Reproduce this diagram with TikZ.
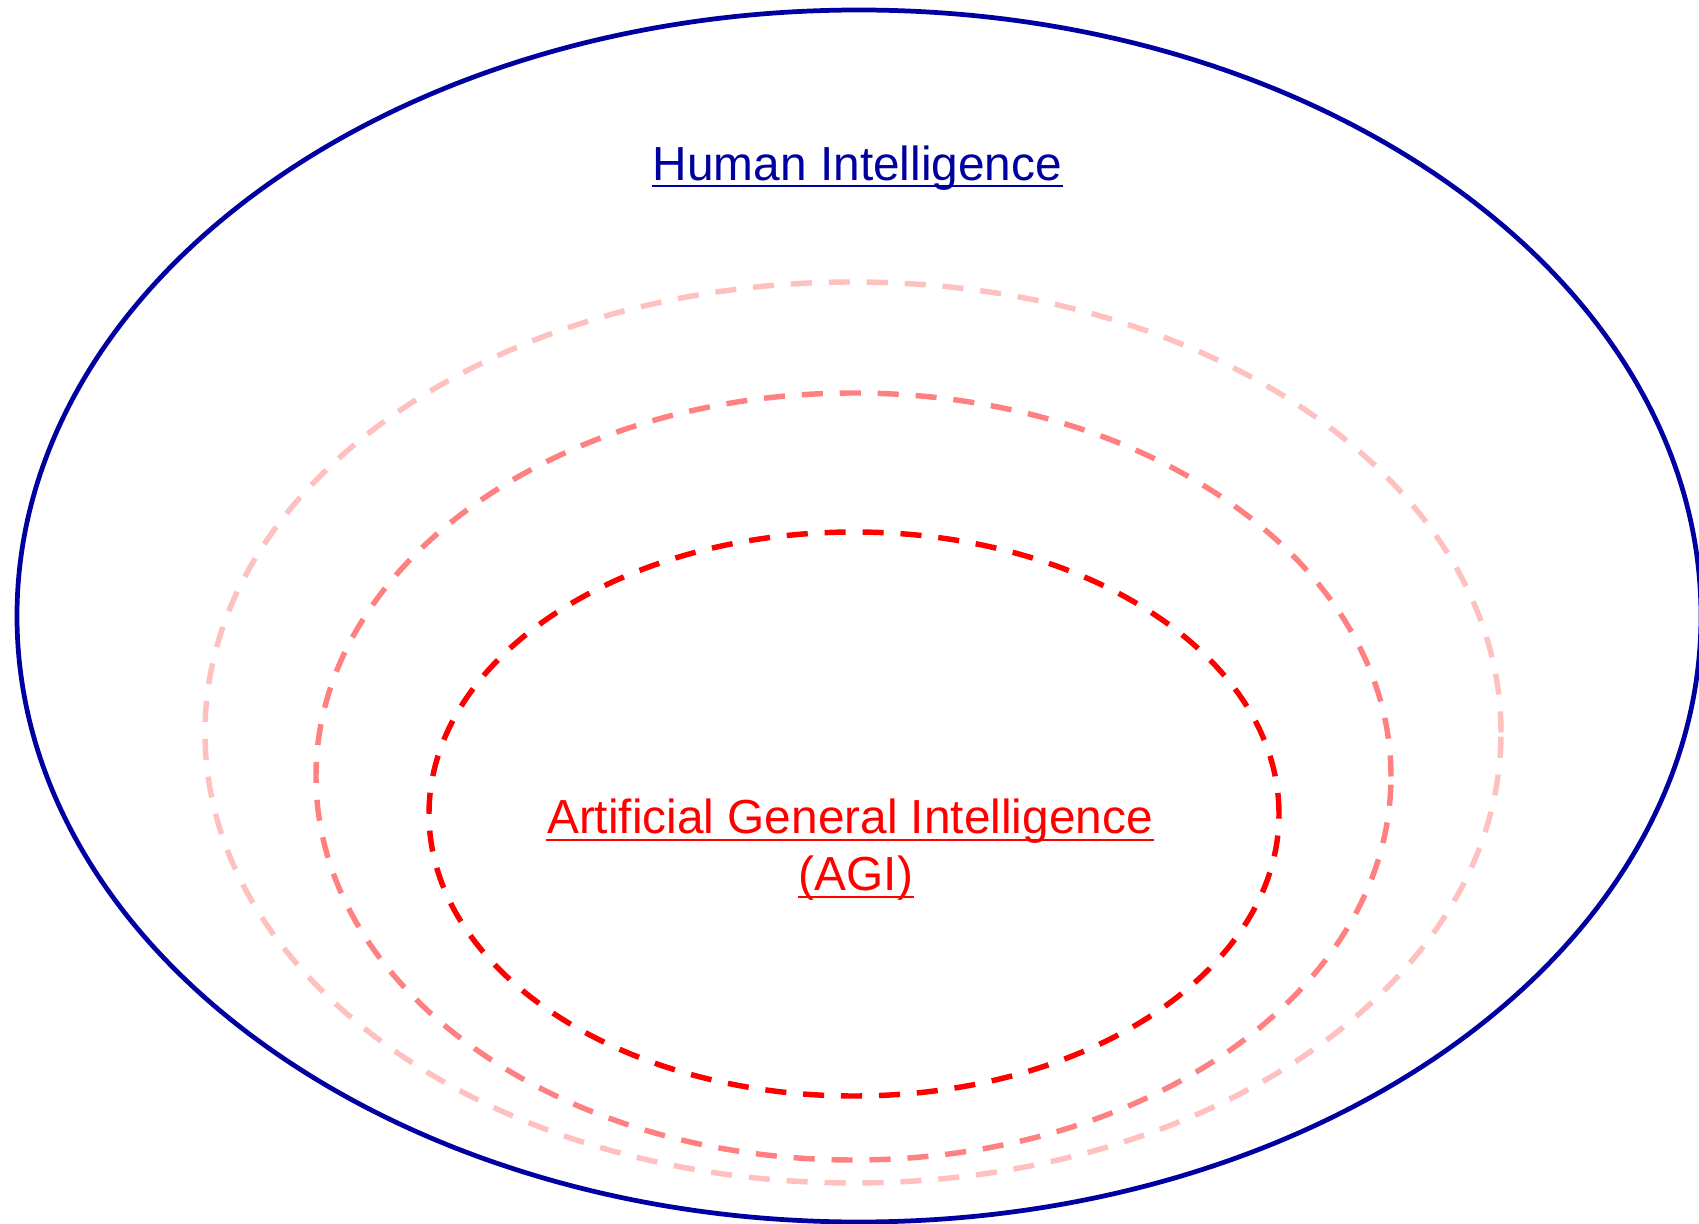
\documentclass[tikz,border=0pt]{standalone}
\usepackage{fontspec}
\setmainfont{Liberation Sans}
\usepackage{xcolor}
\usepackage{tikz}

\definecolor{humanblue}{RGB}{0,0,160}
\definecolor{agired}{RGB}{255,0,0}
\definecolor{midred}{RGB}{255,128,128}
\definecolor{palered}{RGB}{255,192,192}

\begin{document}
\begin{tikzpicture}[
        ring/.style={line width=1.55pt, dash pattern=on 6pt off 4.8pt},
        label/.style={inner sep=0pt, anchor=base, font=\fontsize{13.6}{16.4}\selectfont},
        uline/.style={line width=0.85pt}
    ]
        \useasboundingbox (0,0) rectangle (16.99,12.23);
        % outer set
        \draw[humanblue, line width=1.35pt] (8.59,6.07) ellipse [x radius=8.42, y radius=6.06];
        % nested dashed sets
        \draw[ring, palered] (8.53,4.905) ellipse [x radius=6.48, y radius=4.505];
        \draw[ring, midred] (8.535,4.465) ellipse [x radius=5.375, y radius=3.835];
        \draw[ring, agired] (8.54,4.09) ellipse [x radius=4.25, y radius=2.82];
        % labels
        \node[label, text=humanblue] (hi) at (8.575,10.42) {Human Intelligence};
        \draw[uline, humanblue] ([yshift=-0.05cm]hi.base west) -- ([yshift=-0.05cm]hi.base east);
        \node[label, text=agired] (agi) at (8.50,3.89) {Artificial General Intelligence};
        \draw[uline, agired] ([yshift=-0.06cm]agi.base west) -- ([yshift=-0.06cm]agi.base east);
        \node[label, text=agired] (abbr) at (8.56,3.32) {(AGI)};
        \draw[uline, agired] ([yshift=-0.06cm]abbr.base west) -- ([yshift=-0.06cm]abbr.base east);
    \end{tikzpicture}
\end{document}
